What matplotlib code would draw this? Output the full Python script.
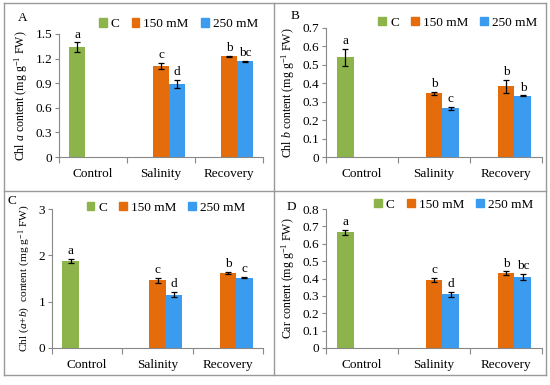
import matplotlib
matplotlib.use("Agg")
import matplotlib.pyplot as plt
import matplotlib.patches as mpatches
import numpy as np

plt.rcParams['font.family'] = ['Liberation Serif', 'DejaVu Serif']
plt.rcParams['mathtext.fontset'] = 'custom'
plt.rcParams['mathtext.rm'] = 'Liberation Serif'
plt.rcParams['mathtext.it'] = 'Liberation Serif:italic'

categories = ["Control", "Salinity", "Recovery"]
series = ["C", "150 mM", "250 mM"]
colors = ["#8DB44A", "#E46C0A", "#3A9BEF"]

# values per panel: list of (category index, series index, value, err, letter)
A_vals = [(0, 0, 1.34, 0.06, "a"), (1, 1, 1.11, 0.04, "c"), (1, 2, 0.89, 0.05, "d"),
          (2, 1, 1.23, 0.006, "b"), (2, 2, 1.17, 0.006, "bc")]
B_vals = [(0, 0, 0.54, 0.048, "a"), (1, 1, 0.345, 0.01, "b"), (1, 2, 0.265, 0.008, "c"),
          (2, 1, 0.385, 0.035, "b"), (2, 2, 0.333, 0.002, "b")]
C_vals = [(0, 0, 1.88, 0.05, "a"), (1, 1, 1.46, 0.05, "c"), (1, 2, 1.15, 0.06, "d"),
          (2, 1, 1.62, 0.03, "b"), (2, 2, 1.52, 0.01, "c")]
D_vals = [(0, 0, 0.665, 0.015, "a"), (1, 1, 0.39, 0.012, "c"), (1, 2, 0.31, 0.015, "d"),
          (2, 1, 0.43, 0.012, "b"), (2, 2, 0.41, 0.018, "bc")]

A_ticks = [0, 0.3, 0.6, 0.9, 1.2, 1.5]
B_ticks = [0, 0.1, 0.2, 0.3, 0.4, 0.5, 0.6, 0.7]
C_ticks = [0, 1, 2, 3]
D_ticks = [0, 0.1, 0.2, 0.3, 0.4, 0.5, 0.6, 0.7, 0.8]

W, H = 550, 385
fig = plt.figure(figsize=(5.5, 3.85), dpi=100)

def rect(l, r, t, b):
    return [l / W, 1 - b / H, (r - l) / W, (b - t) / H]

FS = 9.5
panels = [
    ("A", rect(59, 263, 34, 157), A_vals, A_ticks, "Chl $\\it{a}$ content (mg g$^{-1}$ FW)",
     (23, 18), (0.585, 1.08), "{:.1f}", 8.6),
    ("B", rect(326, 542, 28, 157), B_vals, B_ticks, "Chl $\\it{b}$ content (mg g$^{-1}$ FW)",
     (295, 16), (0.61, 1.04), "{:.1f}", 8.6),
    ("C", rect(52, 263, 209, 348), C_vals, C_ticks, "Chl ($\\it{a}$+$\\it{b}$)  content (mg g$^{-1}$ FW)",
     (12, 201), (0.54, 1.01), "{:.0f}", 8.2),
    ("D", rect(326, 542, 209, 348), D_vals, D_ticks, "Car content (mg g$^{-1}$ FW)",
     (291, 207), (0.59, 1.03), "{:.1f}", 8.6),
]

bw = 0.235
gray = "#888888"
for label, pos, vals, ticks, ylab, lpos, legpos, fmt, yfs in panels:
    ax = fig.add_axes(pos)
    ymax = ticks[-1]
    for ci, si, v, e, let in vals:
        x = ci + (si - 1) * bw
        ax.bar(x, v, width=bw, color=colors[si], zorder=2)
        ax.errorbar(x, v, yerr=e, color="black", capsize=2.5, elinewidth=0.9,
                    capthick=0.9, zorder=3)
        ax.text(x, v + e + ymax * 0.012, let, ha="center", va="bottom", fontsize=FS)
    ax.set_xlim(-0.5, 2.5)
    ax.set_ylim(0, ymax)
    ax.set_yticks(ticks)
    ax.set_yticklabels(["0" if t == 0 else fmt.format(t) for t in ticks], fontsize=FS)
    ax.set_xticks([-0.5, 0.5, 1.5, 2.5])
    ax.set_xticklabels([])
    ax.set_xticks([0, 1, 2], minor=True)
    ax.set_xticklabels(categories, minor=True, fontsize=FS)
    ax.tick_params(axis="x", which="minor", length=0, pad=8)
    ax.tick_params(axis="x", which="major", length=4, direction="out", color=gray)
    ax.tick_params(axis="y", length=3, direction="out", color=gray, pad=2)
    for s in ["top", "right"]:
        ax.spines[s].set_visible(False)
    for s in ["left", "bottom"]:
        ax.spines[s].set_color(gray)
        ax.spines[s].set_linewidth(0.8)
    ax.set_ylabel(ylab, fontsize=yfs, labelpad=4)
    handles = [mpatches.Patch(color=c, label=s) for c, s in zip(colors, series)]
    ax.legend(handles=handles, loc="center", bbox_to_anchor=legpos, ncol=3, frameon=False,
              fontsize=FS, handlelength=0.6, handleheight=0.6, handletextpad=0.3,
              columnspacing=0.9, borderaxespad=0)
    fig.text(lpos[0] / W, 1 - lpos[1] / H, label, ha="center", va="center", fontsize=FS)

# panel frames
def line(x0, y0, x1, y1):
    fig.add_artist(plt.Line2D([x0 / W, x1 / W], [1 - y0 / H, 1 - y1 / H], color="#999999",
                              lw=1.0, transform=fig.transFigure))

line(4, 3, 546, 3)
line(4, 375, 546, 375)
line(4, 3, 4, 375)
line(546, 3, 546, 375)
line(274, 3, 274, 375)
line(4, 191, 546, 191)

fig.savefig("out.png", dpi=100)
